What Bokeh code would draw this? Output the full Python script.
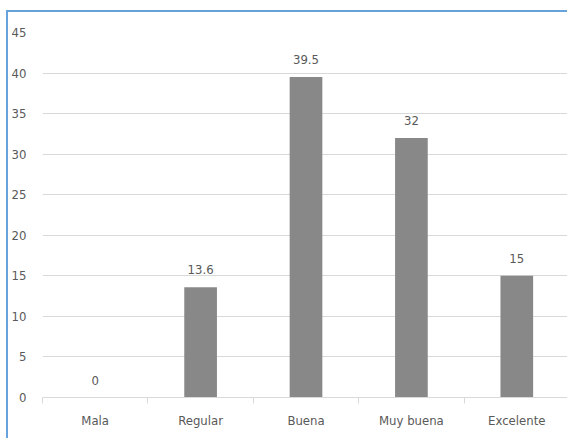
from bokeh.plotting import figure
from bokeh.models import ColumnDataSource, FixedTicker, Range1d
from bokeh.core.properties import value
from bokeh.embed import file_html
from bokeh.resources import INLINE

categories = ["Mala", "Regular", "Buena", "Muy buena", "Excelente"]
values = [0, 13.6, 39.5, 32, 15]
value_labels = ["0", "13.6", "39.5", "32", "15"]
y_ticks = [0, 5, 10, 15, 20, 25, 30, 35, 40, 45]

FONT = "DejaVu Sans Condensed"
TXT = "#595959"
GRID = "#d9d9d9"

xs = [i + 0.5 for i in range(len(categories))]
src = ColumnDataSource(dict(x=xs, top=values, lab=value_labels))

p = figure(width=561, height=428, output_backend="svg", toolbar_location=None,
           x_range=Range1d(0, len(categories)), y_range=Range1d(0, 45),
           min_border_left=31, min_border_right=0, min_border_top=20,
           min_border_bottom=43)
p.styles = {"margin-left": "6px", "margin-top": "10px",
            "border-left": "2px solid #68A2DB", "border-top": "2px solid #68A2DB"}
p.outline_line_color = None
p.background_fill_color = "white"
p.border_fill_color = "white"

p.vbar(x="x", top="top", width=0.31, bottom=0, source=src,
       fill_color="#888888", line_color=None)
p.text(x="x", y="top", text="lab", source=src, text_align="center",
       text_baseline="bottom", y_offset=-13, text_font=value(FONT),
       text_font_size="13px", text_color=TXT)

p.xgrid.grid_line_color = None
p.ygrid.grid_line_color = GRID
p.ygrid.ticker = FixedTicker(ticks=y_ticks)

ya = p.yaxis[0]
ya.ticker = FixedTicker(ticks=y_ticks)
ya.axis_line_color = None
ya.major_tick_line_color = None
ya.minor_tick_line_color = None
ya.major_label_standoff = 10
ya.major_label_text_font = FONT
ya.major_label_text_font_size = "13px"
ya.major_label_text_color = TXT

xa = p.xaxis[0]
xa.ticker = FixedTicker(ticks=xs, minor_ticks=list(range(len(categories) + 1)))
xa.major_label_overrides = {x: c for x, c in zip(xs, categories)}
xa.axis_line_color = GRID
xa.major_tick_line_color = None
xa.minor_tick_line_color = GRID
xa.minor_tick_in = 0
xa.minor_tick_out = 6
xa.major_label_standoff = 9
xa.major_label_text_font = FONT
xa.major_label_text_font_size = "13px"
xa.major_label_text_color = TXT

open("out.html", "w").write(file_html(p, INLINE))
